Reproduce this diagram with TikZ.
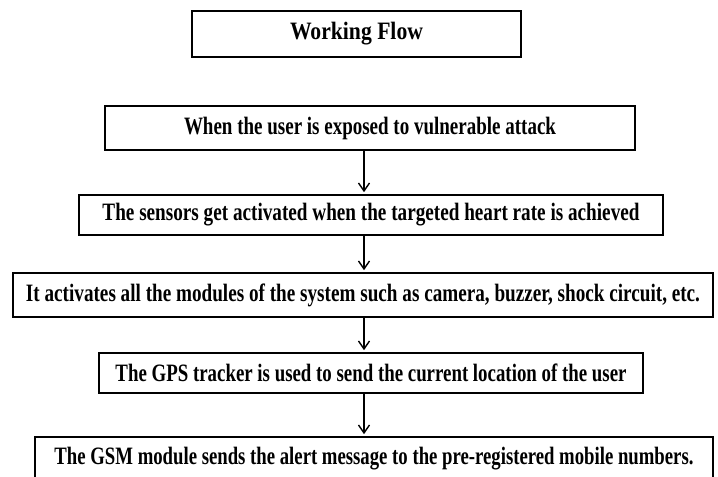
\documentclass[tikz,border=0pt]{standalone}
\usepackage{fontspec}
\setmainfont{Liberation Serif}
\usepackage{graphicx}
\usetikzlibrary{arrows.meta}
\newcommand\fitw[2]{\resizebox{#1bp}{\height}{#2}}
\begin{document}
\begin{tikzpicture}[x=1bp,y=-1bp,
  box/.style={draw, line width=2.8bp, inner sep=0pt, fill=white,
    font=\bfseries\fontsize{25bp}{29bp}\selectfont},
  flow/.style={line width=1.4bp, shorten >=1.4bp,
    -{Straight Barb[length=8bp,width=11bp,line width=1.4bp]}}]
\useasboundingbox (0,0) rectangle (718,477);
\clip (0,0) rectangle (718,477);
\node[box, minimum width=329bp, minimum height=46bp] (b1) at (356.5,34) {\fitw{133}{Working Flow}};
\node[box, minimum width=530bp, minimum height=44bp] (b2) at (370,128) {\fitw{372}{When the user is exposed to vulnerable attack}};
\node[box, minimum width=584bp, minimum height=40bp] (b3) at (371,215) {\fitw{537}{The sensors get activated when the targeted heart rate is achieved}};
\node[box, minimum width=700bp, minimum height=44bp] (b4) at (363,295) {\fitw{674}{It activates all the modules of the system such as camera, buzzer, shock circuit, etc.}};
\node[box, minimum width=544bp, minimum height=40bp] (b5) at (371,373) {\fitw{511}{The GPS tracker is used to send the current location of the user}};
\node[box, minimum width=678bp, minimum height=44bp] (b6) at (374,459) {\fitw{639}{The GSM module sends the alert message to the pre-registered mobile numbers.}};
\coordinate (ax) at (364,0);
\draw[flow] (b2.south -| ax) -- (b3.north -| ax);
\draw[flow] (b3.south -| ax) -- (b4.north -| ax);
\draw[flow] (b4.south -| ax) -- (b5.north -| ax);
\draw[flow] (b5.south -| ax) -- (b6.north -| ax);
\end{tikzpicture}
\end{document}
